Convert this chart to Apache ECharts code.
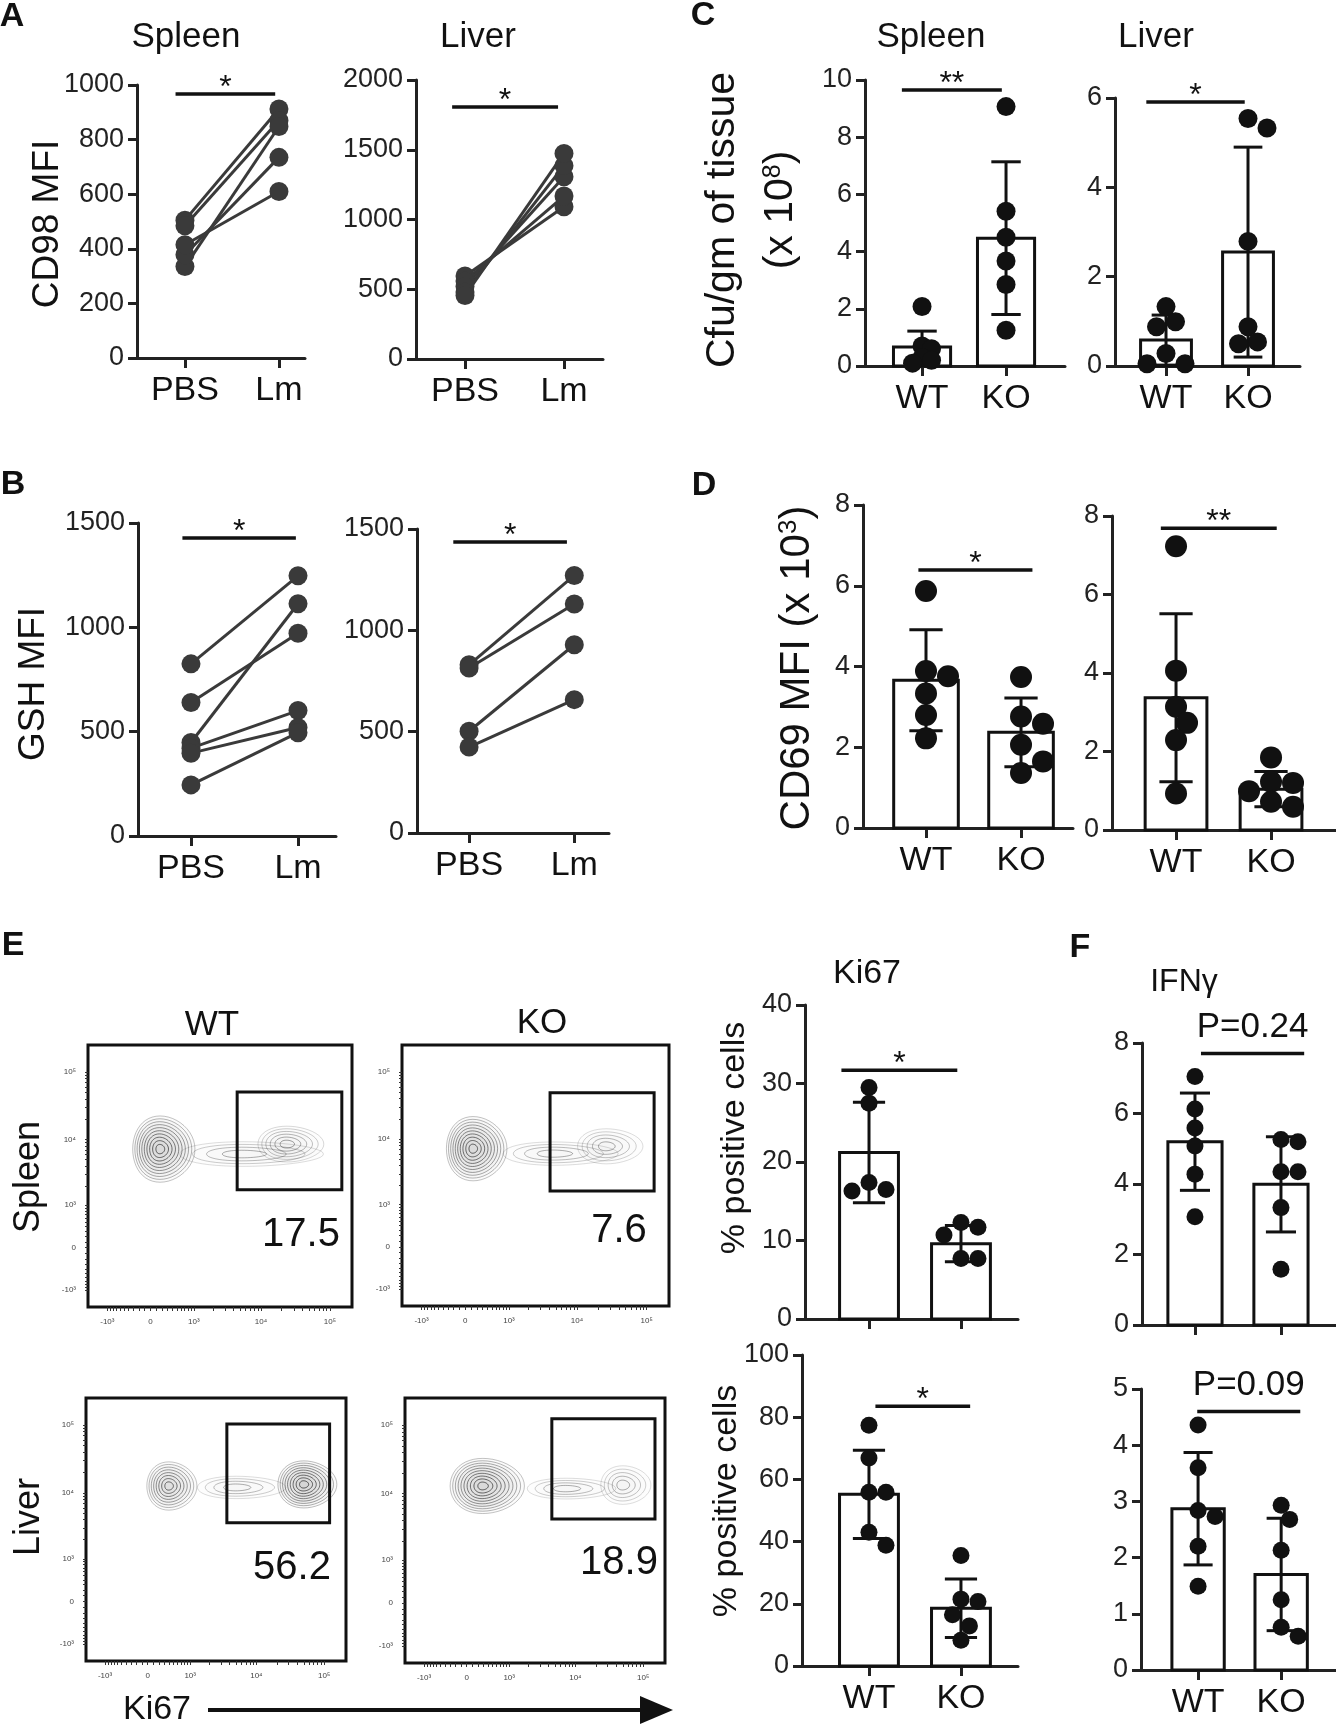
<!DOCTYPE html>
<html><head><meta charset="utf-8">
<script src="https://cdn.jsdelivr.net/npm/echarts@6/dist/echarts.min.js"></script>
<style>html,body{margin:0;padding:0;background:#fff}#c{width:1336px;height:1726px}</style>
</head><body><div id="c"></div><script>
// ---------------- DATA ----------------
const pairCats = ['PBS', 'Lm'];
const barCats = ['WT', 'KO'];

// A: CD98 MFI (paired PBS -> Lm)
const aSpleenPBS = [505, 484, 335, 378, 415];
const aSpleenLm  = [912, 870, 848, 735, 610];
const aLiverPBS  = [595, 560, 520, 480, 455];
const aLiverLm   = [1092, 1168, 1307, 1386, 1474];
// B: GSH MFI
const bSpleenPBS = [825, 640, 448, 421, 397, 245];
const bSpleenLm  = [1247, 972, 1113, 601, 520, 495];
const bLiverPBS  = [830, 814, 502, 424];
const bLiverLm   = [1271, 1130, 929, 658];
// C: Cfu/gm of tissue (x10^8)
const cSpleenWT = [2.08, 0.7, 0.6, 0.3, 0.2, 0.1];
const cSpleenKO = [9.07, 5.41, 4.5, 3.67, 2.85, 1.25];
const cSpleenMean = [0.66, 4.47];
const cSpleenSD = [0.56, 2.67];
const cLiverWT = [1.33, 0.99, 0.88, 0.28, 0.05, 0.05];
const cLiverKO = [5.54, 5.33, 2.79, 0.88, 0.5, 0.54];
const cLiverMean = [0.58, 2.55];
const cLiverSD = [0.56, 2.35];
// D: CD69 MFI (x10^3)
const dSpleenWT = [5.87, 3.89, 3.76, 3.33, 2.8, 2.22];
const dSpleenKO = [3.74, 2.76, 2.58, 2.06, 1.65, 1.36];
const dSpleenMean = [3.66, 2.37];
const dSpleenSD = [1.25, 0.85];
const dLiverWT = [7.23, 4.06, 3.14, 2.73, 2.29, 0.93];
const dLiverKO = [1.85, 1.2, 1.23, 0.99, 0.59, 0.72];
const dLiverMean = [3.37, 1.04];
const dLiverSD = [2.14, 0.45];
// E: Ki67 % positive cells
const kSpleenWT = [29.5, 27.5, 16.3, 17.4, 16.5];
const kSpleenKO = [11.7, 12.3, 10.7, 7.7, 7.7];
const kSpleenMean = [21.2, 9.6];
const kSpleenSD = [6.4, 2.3];
const kLiverWT = [77.4, 66.9, 55.9, 55.9, 43.0, 38.8];
const kLiverKO = [35.5, 21.5, 20.7, 16.5, 12.9, 8.3];
const kLiverMean = [55.2, 18.6];
const kLiverSD = [14.2, 9.4];
// F: IFNγ
const fSpleenWT = [7.05, 6.13, 5.59, 5.08, 4.28, 3.07];
const fSpleenKO = [5.26, 5.2, 4.35, 4.35, 3.33, 1.58];
const fSpleenMean = [5.2, 3.99];
const fSpleenSD = [1.38, 1.35];
const fLiverWT = [4.36, 3.6, 2.84, 2.73, 2.2, 1.49];
const fLiverKO = [2.93, 2.68, 2.13, 1.25, 0.76, 0.6];
const fLiverMean = [2.87, 1.7];
const fLiverSD = [1.0, 1.0];

// significance annotations
const sigASpleen = {text: '*', from: -0.10, to: 0.96, y: 967};
const sigALiver  = {text: '*', from: -0.13, to: 0.94, y: 1806};
const sigBSpleen = {text: '*', from: -0.08, to: 0.98, y: 1428};
const sigBLiver  = {text: '*', from: -0.15, to: 0.93, y: 1436};
const sigCSpleen = {text: '**', from: -0.24, to: 0.95, y: 9.65};
const sigCLiver  = {text: '*', from: -0.24, to: 0.96, y: 5.91};
const sigDSpleen = {text: '*', from: -0.08, to: 1.12, y: 6.39};
const sigDLiver  = {text: '**', from: -0.16, to: 1.06, y: 7.69};
const sigKSpleen = {text: '*', from: -0.30, to: 0.96, y: 31.7};
const sigKLiver  = {text: '*', from: 0.07, to: 1.10, y: 83.5};
const sigFSpleen = {text: 'P=0.24', from: 0.07, to: 1.27, y: 7.7};
const sigFLiver  = {text: 'P=0.09', from: -0.01, to: 1.23, y: 4.6};

// flow cytometry (Ki67 x-axis, biexponential-like display)
const flowTickValues = [-1000, 0, 1000, 10000, 100000];
const flowTickLabels = ['-10³', '0', '10³', '10⁴', '10⁵'];
const flowPercent = [17.5, 7.6, 56.2, 18.9];
const flowGateWTSpleen = [4500, 149000, 1760, 50300];
const flowGateKOSpleen = [4100, 128000, 1660, 48700];
const flowGateWTLiver  = [3660, 120000, 3590, 104000];
const flowGateKOLiver  = [4490, 149000, 4230, 124000];
const flowPopsWTSpleen = [
  {x: 5480, y: 6070, sx: 2.4, sy: 0.42, n: 4, a: 0.45},
  {x: 23800, y: 8530, sx: 1.1, sy: 0.61, n: 6, a: 0.5},
  {x: 162, y: 7190, sx: 1.04, sy: 1.13, n: 10, a: 0.8}
];
const flowPopsKOSpleen = [
  {x: 4640, y: 6070, sx: 1.9, sy: 0.4, n: 4, a: 0.45},
  {x: 26400, y: 7800, sx: 1.08, sy: 0.6, n: 5, a: 0.45},
  {x: 130, y: 7190, sx: 1.0, sy: 1.1, n: 10, a: 0.8}
];
const flowPopsWTLiver = [
  {x: 5060, y: 12000, sx: 1.5, sy: 0.38, n: 4, a: 0.45},
  {x: 393, y: 12600, sx: 0.85, sy: 0.82, n: 8, a: 0.75},
  {x: 50100, y: 13300, sx: 1.0, sy: 0.8, n: 9, a: 0.85}
];
const flowPopsKOLiver = [
  {x: 7330, y: 11800, sx: 1.5, sy: 0.35, n: 4, a: 0.45},
  {x: 50100, y: 13300, sx: 0.85, sy: 0.65, n: 5, a: 0.45},
  {x: 289, y: 12900, sx: 1.26, sy: 0.93, n: 10, a: 0.8}
];

// ---------------- LAYOUT / STYLE ----------------
const FONT = "'Liberation Sans', Arial, Helvetica, sans-serif";
const AX = '#222';
const LAY = {
  aSpleen: {left: 137, top: 85, width: 168, height: 273, xmin: -0.51, xmax: 1.277, ymax: 1000, yint: 200},
  aLiver:  {left: 416, top: 80, width: 187, height: 279, xmin: -0.495, xmax: 1.394, ymax: 2000, yint: 500},
  bSpleen: {left: 138, top: 523, width: 198, height: 313, xmin: -0.495, xmax: 1.355, ymax: 1500, yint: 500},
  bLiver:  {left: 417, top: 529, width: 192, height: 304, xmin: -0.495, xmax: 1.33, ymax: 1500, yint: 500},
  cSpleen: {left: 865, top: 80, width: 200, height: 286, xmin: -0.679, xmax: 1.702, ymax: 10, yint: 2, bw: 0.68, dot: 19, ov: 0.5},
  cLiver:  {left: 1115, top: 98, width: 185, height: 268, xmin: -0.622, xmax: 1.634, ymax: 6, yint: 2, bw: 0.62, dot: 19, ov: 0.8},
  dSpleen: {left: 863, top: 505, width: 210, height: 323, xmin: -0.663, xmax: 1.547, ymax: 8, yint: 2, bw: 0.68, dot: 22},
  dLiver:  {left: 1112, top: 516, width: 224, height: 314, xmin: -0.674, xmax: 1.684, ymax: 8, yint: 2, bw: 0.65, dot: 22, ov: 0.8},
  kSpleen: {left: 805, top: 1005, width: 213, height: 314, xmin: -0.696, xmax: 1.62, ymax: 40, yint: 10, bw: 0.64, dot: 17, xLabels: false},
  kLiver:  {left: 802, top: 1355, width: 216, height: 311, xmin: -0.728, xmax: 1.62, ymax: 100, yint: 20, bw: 0.64, dot: 17},
  fSpleen: {left: 1142, top: 1043, width: 194, height: 282, xmin: -0.616, xmax: 1.64, ymax: 8, yint: 2, bw: 0.63, dot: 17, xLabels: false},
  fLiver:  {left: 1141, top: 1389, width: 195, height: 281, xmin: -0.687, xmax: 1.66, ymax: 5, yint: 1, bw: 0.63, dot: 17}
};
const FLAY = [
  {left: 88, top: 1045, width: 264, height: 262},
  {left: 402, top: 1045, width: 267, height: 261},
  {left: 86, top: 1398, width: 260, height: 263},
  {left: 405, top: 1398, width: 260, height: 265}
];
const FX = {min: -2.09, max: 6.73}, FY = {min: -2.025, max: 6.91};
const T = v => Math.asinh(v / 500);

const option = {
  animation: false, backgroundColor: '#fff',
  textStyle: {fontFamily: FONT},
  grid: [], xAxis: [], yAxis: [], series: [], graphic: []
};

function addAxes(p, cats) {
  const gi = option.grid.length;
  option.grid.push({left: p.left, top: p.top, width: p.width, height: p.height});
  option.xAxis.push({
    type: 'value', gridIndex: gi, min: p.xmin, max: p.xmax,
    axisLine: {show: true, onZero: false, lineStyle: {color: AX, width: 3}},
    axisTick: {show: true, customValues: [0, 1], length: 10, lineStyle: {color: AX, width: 3}},
    axisLabel: {show: p.xLabels !== false, customValues: [0, 1], formatter: v => cats[Math.round(v)] || '',
      fontSize: 34, color: '#111', margin: 16, fontFamily: FONT},
    splitLine: {show: false}
  });
  option.yAxis.push({
    type: 'value', gridIndex: gi, min: 0, max: p.ymax, interval: p.yint,
    axisLine: {show: true, onZero: false, lineStyle: {color: AX, width: 3}},
    axisTick: {show: true, length: 9, lineStyle: {color: AX, width: 3}},
    axisLabel: {fontSize: 27, color: '#222', margin: 13, fontFamily: FONT, formatter: v => String(v)},
    splitLine: {show: false}
  });
  return gi;
}

function addSig(gi, sig) {
  option.series.push({
    type: 'custom', xAxisIndex: gi, yAxisIndex: gi, z: 6, silent: true,
    data: [[sig.from, sig.to, sig.y]],
    renderItem: (params, api) => {
      const a = api.coord([api.value(0), api.value(2)]);
      const b = api.coord([api.value(1), api.value(2)]);
      const isP = sig.text.charAt(0) === 'P';
      return {type: 'group', children: [
        {type: 'line', shape: {x1: a[0], y1: a[1], x2: b[0], y2: b[1]}, style: {stroke: '#111', lineWidth: 3.5}},
        {type: 'text', style: {text: sig.text, x: (a[0] + b[0]) / 2, y: a[1] - (isP ? 26 : 6),
          align: 'center', verticalAlign: 'middle', fontSize: isP ? 35 : 32, fontFamily: FONT, fill: '#111'}}
      ]};
    }
  });
}

function pairPlot(p, pre, post, sig) {
  const gi = addAxes(p, pairCats);
  pre.forEach((v, i) => {
    option.series.push({
      type: 'line', xAxisIndex: gi, yAxisIndex: gi, z: 3,
      data: [[0, v], [1, post[i]]],
      symbol: 'circle', symbolSize: 19,
      itemStyle: {color: '#3a3a3a'}, lineStyle: {color: '#3a3a3a', width: 3}
    });
  });
  addSig(gi, sig);
}

function swarmSeries(gi, xc, vals, size, ov) {
  let cache = null;
  return {
    type: 'custom', xAxisIndex: gi, yAxisIndex: gi, z: 5,
    data: vals.map(v => [xc, v]), encode: {x: 0, y: 1},
    renderItem: (params, api) => {
      if (params.dataIndex === 0 || !cache) {
        const pts = vals.map(v => api.coord([xc, v]));
        const order = vals.map((v, i) => i).sort((a, b) => vals[b] - vals[a]);
        const placed = [], offs = vals.map(() => 0);
        const d = size;
        order.forEach(i => {
          const y = pts[i][1];
          const cands = [0];
          for (let k = 1; k < 10; k++) cands.push(k * d / 2, -k * d / 2);
          for (const c of cands) {
            if (placed.every(q => Math.hypot(q[0] - c, q[1] - y) >= d * ov)) {
              offs[i] = c; placed.push([c, y]); break;
            }
          }
        });
        cache = {pts, offs};
      }
      const pt = cache.pts[params.dataIndex];
      return {type: 'circle', shape: {cx: pt[0] + cache.offs[params.dataIndex], cy: pt[1], r: size / 2},
        style: {fill: '#111'}};
    }
  };
}

function barPlot(p, wt, ko, mean, sd, sig) {
  const gi = addAxes(p, barCats);
  const bw = p.bw, cap = 0.35;
  option.series.push({
    type: 'custom', xAxisIndex: gi, yAxisIndex: gi, z: 2,
    data: mean.map((m, i) => [i, m, sd[i]]), encode: {x: 0, y: 1},
    renderItem: (params, api) => {
      const x = api.value(0), m = api.value(1);
      const a = api.coord([x - bw / 2, m]), b = api.coord([x + bw / 2, 0]);
      return {type: 'rect', shape: {x: a[0], y: a[1], width: b[0] - a[0], height: b[1] - a[1]},
        style: {fill: '#fff', stroke: '#111', lineWidth: 3}};
    }
  });
  option.series.push({
    type: 'custom', xAxisIndex: gi, yAxisIndex: gi, z: 3,
    data: mean.map((m, i) => [i, m, sd[i]]), encode: {x: 0, y: 1},
    renderItem: (params, api) => {
      const x = api.value(0), m = api.value(1), s = api.value(2);
      const t = api.coord([x, m + s]), b = api.coord([x, Math.max(0, m - s)]);
      const hw = api.size([cap, 0])[0] / 2;
      const st = {stroke: '#111', lineWidth: 3};
      return {type: 'group', children: [
        {type: 'line', shape: {x1: t[0], y1: t[1], x2: b[0], y2: b[1]}, style: st},
        {type: 'line', shape: {x1: t[0] - hw, y1: t[1], x2: t[0] + hw, y2: t[1]}, style: st},
        {type: 'line', shape: {x1: b[0] - hw, y1: b[1], x2: b[0] + hw, y2: b[1]}, style: st}
      ]};
    }
  });
  const ov = p.ov || 0.92;
  option.series.push(swarmSeries(gi, 0, wt, p.dot, ov));
  option.series.push(swarmSeries(gi, 1, ko, p.dot, ov));
  addSig(gi, sig);
}

function flowPlot(f, pops, gate) {
  const gi = option.grid.length;
  option.grid.push({left: f.left, top: f.top, width: f.width, height: f.height, show: true,
    borderColor: '#111', borderWidth: 3, backgroundColor: 'transparent'});
  const minor = [];
  [100, 1000, 10000].forEach(dec => { for (let m = 1; m <= 9; m++) minor.push(m * dec); });
  [100, 200, 300, 400, 500, 600, 700, 800, 900, 1000].forEach(v => minor.push(-v));
  minor.push(100000, 0);
  const tickT = minor.map(T);
  const majT = flowTickValues.map(T);
  const fmt = v => { let best = 0; majT.forEach((t, i) => { if (Math.abs(t - v) < Math.abs(majT[best] - v)) best = i; }); return flowTickLabels[best]; };
  option.xAxis.push({type: 'value', gridIndex: gi, min: FX.min, max: FX.max,
    axisLine: {show: false, onZero: false}, splitLine: {show: false},
    axisTick: {show: true, customValues: tickT, length: 4, lineStyle: {color: '#333', width: 1}},
    axisLabel: {show: true, customValues: majT, formatter: fmt, fontSize: 8, color: '#444', margin: 11}});
  option.yAxis.push({type: 'value', gridIndex: gi, min: FY.min, max: FY.max,
    axisLine: {show: false, onZero: false}, splitLine: {show: false},
    axisTick: {show: true, customValues: tickT.filter(t => t > FY.min), length: 3, lineStyle: {color: '#333', width: 1}},
    axisLabel: {show: true, customValues: majT, formatter: fmt, fontSize: 8, color: '#444', margin: 12}});
  option.series.push({
    type: 'custom', xAxisIndex: gi, yAxisIndex: gi, z: 2, silent: true,
    data: pops.map(q => [T(q.x), T(q.y), q.sx, q.sy, q.n, q.a]),
    renderItem: (params, api) => {
      const c = api.coord([api.value(0), api.value(1)]);
      const sz = api.size([api.value(2), api.value(3)]);
      const n = api.value(4), a = api.value(5);
      const kids = [];
      for (let k = n; k >= 1; k--) {
        const fr = Math.pow(k / n, 0.85);
        const rx = sz[0] * fr, ry = sz[1] * fr;
        const pts = [];
        for (let j = 0; j < 48; j++) {
          const th = j / 48 * Math.PI * 2;
          const skew = 1 + 0.12 * Math.cos(th);
          pts.push([c[0] + rx * Math.cos(th) * skew - rx * 0.08 * (1 - fr), c[1] + ry * Math.sin(th)]);
        }
        const alpha = a * (0.35 + 0.65 * (1 - k / n));
        kids.push({type: 'polygon', shape: {points: pts},
          style: {fill: 'rgba(150,150,150,' + (0.05 * a) + ')', stroke: 'rgba(40,40,40,' + alpha.toFixed(3) + ')', lineWidth: 1}});
      }
      return {type: 'group', children: kids};
    }
  });
  option.series.push({
    type: 'custom', xAxisIndex: gi, yAxisIndex: gi, z: 4, silent: true,
    data: [[T(gate[0]), T(gate[1]), T(gate[2]), T(gate[3])]],
    renderItem: (params, api) => {
      const a = api.coord([api.value(0), api.value(3)]);
      const b = api.coord([api.value(1), api.value(2)]);
      return {type: 'rect', shape: {x: a[0], y: a[1], width: b[0] - a[0], height: b[1] - a[1]},
        style: {fill: 'none', stroke: '#111', lineWidth: 3}};
    }
  });
}

// ---------------- BUILD ----------------
pairPlot(LAY.aSpleen, aSpleenPBS, aSpleenLm, sigASpleen);
pairPlot(LAY.aLiver, aLiverPBS, aLiverLm, sigALiver);
pairPlot(LAY.bSpleen, bSpleenPBS, bSpleenLm, sigBSpleen);
pairPlot(LAY.bLiver, bLiverPBS, bLiverLm, sigBLiver);
barPlot(LAY.cSpleen, cSpleenWT, cSpleenKO, cSpleenMean, cSpleenSD, sigCSpleen);
barPlot(LAY.cLiver, cLiverWT, cLiverKO, cLiverMean, cLiverSD, sigCLiver);
barPlot(LAY.dSpleen, dSpleenWT, dSpleenKO, dSpleenMean, dSpleenSD, sigDSpleen);
barPlot(LAY.dLiver, dLiverWT, dLiverKO, dLiverMean, dLiverSD, sigDLiver);
barPlot(LAY.kSpleen, kSpleenWT, kSpleenKO, kSpleenMean, kSpleenSD, sigKSpleen);
barPlot(LAY.kLiver, kLiverWT, kLiverKO, kLiverMean, kLiverSD, sigKLiver);
barPlot(LAY.fSpleen, fSpleenWT, fSpleenKO, fSpleenMean, fSpleenSD, sigFSpleen);
barPlot(LAY.fLiver, fLiverWT, fLiverKO, fLiverMean, fLiverSD, sigFLiver);
flowPlot(FLAY[0], flowPopsWTSpleen, flowGateWTSpleen);
flowPlot(FLAY[1], flowPopsKOSpleen, flowGateKOSpleen);
flowPlot(FLAY[2], flowPopsWTLiver, flowGateWTLiver);
flowPlot(FLAY[3], flowPopsKOLiver, flowGateKOLiver);

function txt(text, x, y, size, opts) {
  opts = opts || {};
  option.graphic.push({type: 'text', x: x, y: y, rotation: opts.rot || 0, z: 100, silent: true,
    style: {text: text, fontSize: size, fontFamily: FONT, fontWeight: opts.bold ? 'bold' : 'normal',
      fill: '#111', align: opts.align || 'center', verticalAlign: 'middle', rich: opts.rich}});
}
const R90 = Math.PI / 2;
const supRich = s => ({b: {fontSize: s, fontFamily: FONT, fill: '#111'}, s: {fontSize: Math.round(s * 0.62), fontFamily: FONT, fill: '#111', verticalAlign: 'top'}});
// panel letters
txt('A', 12, 17, 34, {bold: true});
txt('B', 13, 485, 34, {bold: true});
txt('C', 703, 16, 34, {bold: true});
txt('D', 704, 486, 34, {bold: true});
txt('E', 13, 946, 34, {bold: true});
txt('F', 1080, 948, 34, {bold: true});
// titles
txt('Spleen', 186, 37, 35);
txt('Liver', 478, 37, 35);
txt('Spleen', 931, 37, 35);
txt('Liver', 1156, 37, 35);
txt('Ki67', 867, 974, 34);
txt('IFNγ', 1184, 982, 32);
txt('WT', 212, 1025, 35);
txt('KO', 542, 1023, 35);
// axis titles
txt('CD98 MFI', 48, 224, 37, {rot: R90});
txt('GSH MFI', 34, 684, 37, {rot: R90});
txt('Cfu/gm of tissue', 723, 220, 41, {rot: R90});
txt('{b|(x 10}{s|8}{b|)}', 781, 210, 41, {rot: R90, rich: supRich(41)});
txt('{b|CD69 MFI (x 10}{s|3}{b|)}', 797, 668, 42, {rot: R90, rich: supRich(42)});
txt('% positive cells', 735, 1138, 34, {rot: R90});
txt('% positive cells', 727, 1501, 34, {rot: R90});
txt('Spleen', 29, 1177, 36, {rot: R90});
txt('Liver', 29, 1517, 36, {rot: R90});
// flow percentages
const FPCT = [[301, 1235], [619, 1231], [292, 1568], [619, 1563]];
flowPercent.forEach((v, i) => txt(String(v), FPCT[i][0], FPCT[i][1], 40));
// Ki67 arrow
txt('Ki67', 157, 1710, 34);
option.graphic.push({type: 'line', shape: {x1: 208, y1: 1710, x2: 645, y2: 1710}, style: {stroke: '#111', lineWidth: 4}, silent: true});
option.graphic.push({type: 'polygon', shape: {points: [[640, 1696], [673, 1710], [640, 1724]]}, style: {fill: '#111'}, silent: true});

const chart = echarts.init(document.getElementById('c'), null, {renderer: 'canvas'});
chart.setOption(option);
</script></body></html>
